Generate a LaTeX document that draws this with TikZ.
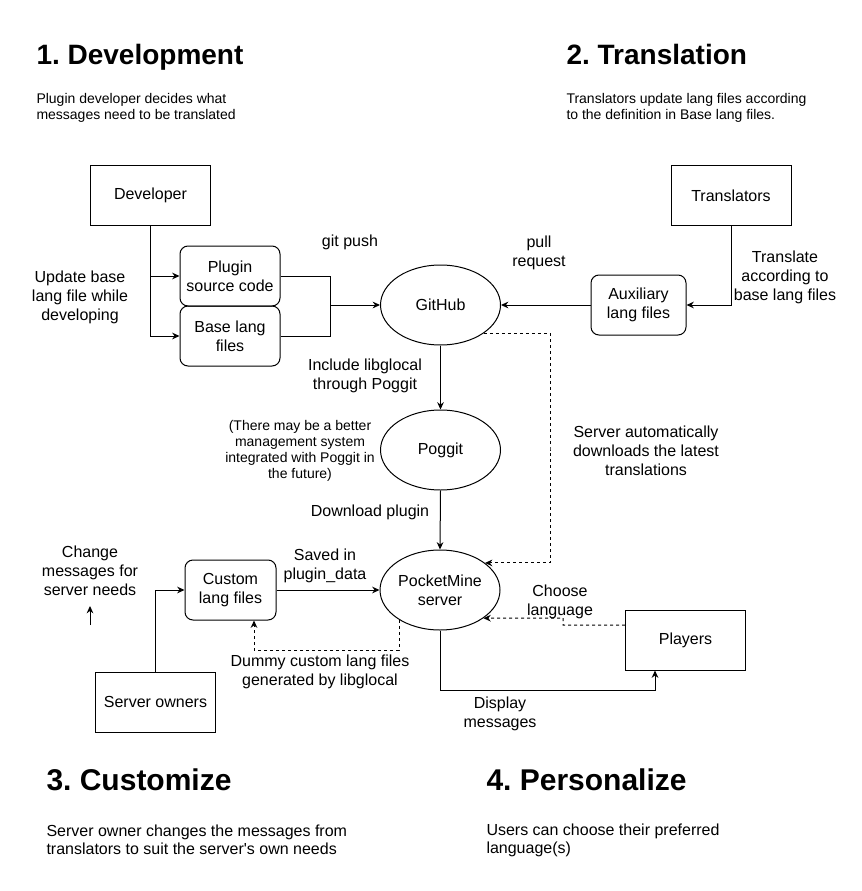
\documentclass[tikz,border=0pt]{standalone}
\usepackage{fontspec}
\setmainfont{Liberation Sans}
\usetikzlibrary{shapes.geometric,arrows.meta}
\frenchspacing

\begin{document}
\begin{tikzpicture}[x=0.75pt, y=-0.75pt, line width=0.75pt,
  >={Stealth[length=5.5pt,width=5pt]},
  actor/.style={draw, rectangle, minimum width=90pt, minimum height=45pt, font=\fontsize{12}{14.25}\selectfont},
  langfile/.style={draw, rectangle, rounded corners=6pt, minimum width=75pt, minimum height=45pt, align=center, font=\fontsize{12}{14.25}\selectfont},
  service/.style={draw, ellipse, minimum width=90pt, minimum height=60pt, inner sep=0pt, align=center, font=\fontsize{12}{14.25}\selectfont},
  lbl/.style={align=center, font=\fontsize{12}{14.25}\selectfont},
  heading/.style={anchor=base west, inner sep=0pt, font=\bfseries\fontsize{21}{25}\selectfont},
  blurb/.style={anchor=west, align=left, inner sep=0pt, font=\fontsize{10.5}{12}\selectfont},
  hint/.style={->, dash pattern=on 2.25pt off 2.25pt}]
  \useasboundingbox (0,0) rectangle (862,891);

  % 1. Development
  \node[heading] (devhead) at (36,65) {1. Development};
  \node[blurb] (devtext) at (36,108) {Plugin developer decides what\\messages need to be translated};
  \node[actor] (dev) at (150.5,195.5) {Developer};
  \node[langfile] (plugin) at (230,276) {Plugin\\source code};
  \node[langfile] (base) at (230,336) {Base lang\\files};
  \node[lbl] (updlbl) at (80,297) {Update base\\lang file while\\developing};
  \node[lbl] (pushlbl) at (350,242) {git push};
  \coordinate (merge) at (330,305);

  % 2. Translation
  \node[heading] (tranhead) at (566,65) {2. Translation};
  \node[blurb] (trantext) at (566,108) {Translators update lang files according\\to the definition in Base lang files.};
  \node[actor] (trans) at (731,195.5) {Translators};
  \node[langfile, minimum width=71.25pt] (aux) at (638.5,305) {Auxiliary\\lang files};
  \node[lbl] (pulllbl) at (539,252.5) {pull\\request};
  \node[lbl] (tranlbl) at (785,277) {Translate\\according to\\base lang files};

  % GitHub, Poggit and the server
  \node[service] (github) at (440.5,305) {GitHub};
  \node[service] (poggit) at (440.5,450) {Poggit};
  \node[service] (pmine) at (440,590) {PocketMine\\server};
  \node[lbl] (inclbl) at (365,375.5) {Include libglocal\\through Poggit};
  \node[lbl, font=\fontsize{10.5}{12}\selectfont] (futurelbl) at (300,450.5) {(There may be a better\\management system\\integrated with Poggit in\\the future)};
  \node[lbl] (dllbl) at (370,512) {Download plugin};
  \node[lbl] (autolbl) at (646,451) {Server automatically\\downloads the latest\\translations};
  \coordinate (dlroute) at (550,450);

  % 3. Customize
  \node[heading, font=\bfseries\fontsize{22.5}{27}\selectfont] (custhead) at (46,790.5) {3. Customize};
  \node[blurb, font=\fontsize{12}{13.5}\selectfont] (custtext) at (46,840) {Server owner changes the messages from\\translators to suit the server\textquotesingle s own needs};
  \node[langfile, minimum width=68.25pt] (custom) at (230.5,590) {Custom\\lang files};
  \node[actor] (owners) at (155.5,702) {Server owners};
  \node[lbl] (needlbl) at (90,571) {Change\\messages for\\server needs};
  \node[lbl] (savelbl) at (325,566) {Saved in\\plugin\_data};
  \node[lbl] (dummylbl) at (320,671.5) {Dummy custom lang files\\generated by libglocal};
  \coordinate (genroute) at (254,650);
  \coordinate (needtail) at (90,625);
  \coordinate (needtip) at (90,606);

  % 4. Personalize
  \node[heading, font=\bfseries\fontsize{22.5}{27}\selectfont] (perhead) at (486,790.5) {4. Personalize};
  \node[blurb, font=\fontsize{12}{13.5}\selectfont] (pertext) at (486,840) {Users can choose their preferred\\language(s)};
  \node[actor] (players) at (685.5,640) {Players};
  \node[lbl] (chooselbl) at (560,601.5) {Choose\\language};
  \node[lbl] (showlbl) at (500,713.5) {Display\\messages};
  \coordinate (pickroute) at (563,618);
  \coordinate (showroute) at (655,690);

  % Connectors
  \draw[->] (dev.south) |- (plugin.west);
  \draw[->] (dev.south) |- (base.west);
  \draw (plugin.east) -| (merge);
  \draw (base.east) -| (merge);
  \draw[->] (merge) -- (github.west);
  \draw[->] (trans.south) |- (aux.east);
  \draw[->] (aux.west) -- (github.east);
  \draw[->] (github.south) -- (poggit.north);
  \draw[->] (poggit.south) -- (pmine.north);
  \draw[hint] (github.-33) -| (dlroute) |- (pmine.31);
  \draw[->] (custom.east) -- (pmine.west);
  \draw[->] (owners.north) |- (custom.west);
  \draw[hint] (pmine.216) |- (genroute) -- (genroute |- custom.south);
  \draw[->] (needtail) -- (needtip);
  \draw[hint] ([yshift=11.25pt]players.west) -| (pickroute) -- (pmine.-33);
  \draw[->] (pmine.south) |- (showroute) -- (showroute |- players.south);
\end{tikzpicture}
\end{document}
